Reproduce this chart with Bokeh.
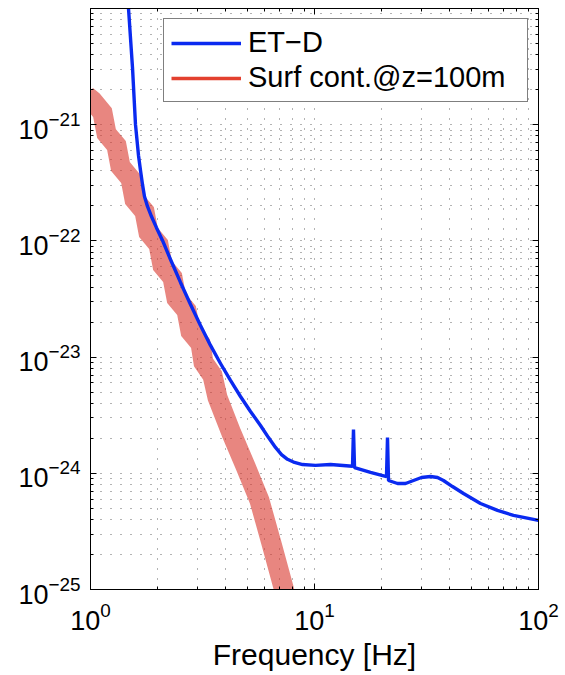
import numpy as np
from bokeh.plotting import figure
from bokeh.models import (LogAxis, FixedTicker, Legend, LegendItem,
                          ColumnDataSource, Range1d, CustomJSTickFormatter)
from bokeh.embed import file_html
from bokeh.resources import INLINE

# ---------------- data ----------------
etd_freq = [1.463, 1.478, 1.540, 1.588, 1.638, 1.672, 1.707, 1.742, 1.797, 1.872,
            1.970, 2.096, 2.276, 2.522, 2.796, 3.098, 3.434, 3.805, 4.217, 4.673,
            5.179, 5.740, 6.233, 6.697, 7.123, 7.578, 8.141, 8.841, 10.10, 11.79,
            14.78, 14.93, 15.09, 17.78, 20.96, 21.18, 21.40, 23.48, 25.49, 27.67,
            30.04, 32.95, 35.41, 37.65, 41.31, 46.26, 55.09, 65.61, 77.32, 100.0]
etd_asd = [1.29e-20, 1.00e-20, 3.10e-21, 1.00e-21, 5.43e-22, 4.04e-22, 3.05e-22,
           2.41e-22, 1.98e-22, 1.62e-22, 1.30e-22, 1.01e-22, 6.92e-23, 4.39e-23,
           2.84e-23, 1.87e-23, 1.26e-23, 8.81e-24, 6.30e-24, 4.58e-24, 3.40e-24,
           2.58e-24, 2.03e-24, 1.67e-24, 1.45e-24, 1.32e-24, 1.24e-24, 1.19e-24,
           1.17e-24, 1.19e-24, 1.15e-24, 2.38e-24, 1.12e-24, 1.02e-24, 9.38e-25,
           2.03e-24, 8.67e-25, 8.17e-25, 8.17e-25, 8.67e-25, 9.20e-25, 9.38e-25,
           9.20e-25, 8.67e-25, 7.69e-25, 6.70e-25, 5.50e-25, 4.79e-25, 4.34e-25,
           3.93e-25]

surf_freq = [0.96, 1.021, 1.131, 1.179, 1.306, 1.361, 1.509, 1.572, 1.742, 1.815,
             2.012, 2.096, 2.323, 2.421, 2.683, 2.796, 3.098, 3.195, 3.504, 3.690,
             4.262, 4.920, 5.681, 6.427, 7.270, 7.975]
surf_asd = [1.78e-21, 1.61e-21, 1.27e-21, 8.39e-22, 6.62e-22, 4.37e-22, 3.44e-22,
            2.27e-22, 1.79e-22, 1.18e-22, 9.31e-23, 6.14e-23, 4.84e-23, 3.19e-23,
            2.52e-23, 1.66e-23, 1.31e-23, 8.99e-24, 6.95e-24, 4.49e-24, 2.20e-24,
            1.15e-24, 5.83e-25, 2.49e-25, 1.04e-25, 4.90e-26]

x_ticks = [1, 10, 100]
y_ticks = [1e-25, 1e-24, 1e-23, 1e-22, 1e-21]

series_labels = ["ET\u2212D", "Surf cont.@z=100m"]
x_label = "Frequency [Hz]"

FONT = "Liberation Sans"
BLUE = "#0a2af0"
RED = "#d8362c"

# ---------------- figure ----------------
p = figure(width=565, height=675, x_axis_type="log", y_axis_type="log",
           x_range=Range1d(1, 100), y_range=Range1d(1e-25, 1e-20),
           output_backend="svg", toolbar_location=None,
           min_border_left=90, min_border_right=27,
           min_border_top=8, min_border_bottom=86)
p.background_fill_color = "white"
p.border_fill_color = "white"
p.outline_line_color = "black"
p.outline_line_width = 1

x_minor = [m * d for d in [1, 10] for m in range(2, 10)]
y_minor = [m * d for d in [1e-25, 1e-24, 1e-23, 1e-22, 1e-21] for m in range(2, 10)]
xt = FixedTicker(ticks=x_ticks, minor_ticks=x_minor)
yt = FixedTicker(ticks=y_ticks, minor_ticks=y_minor)

def style_axis(ax, ticker, hide_labels):
    ax.ticker = ticker
    if hide_labels:
        ax.formatter = CustomJSTickFormatter(code="return ' ';")
        ax.major_label_text_font_size = "2px"
        ax.major_label_standoff = 0
    else:
        ax.major_label_text_font = FONT
        ax.major_label_text_font_size = "27px"
        ax.major_label_text_color = "black"
    ax.major_tick_in = 6
    ax.major_tick_out = 0
    ax.minor_tick_in = 3
    ax.minor_tick_out = 0
    ax.axis_line_color = "black"
    ax.major_tick_line_color = "black"
    ax.minor_tick_line_color = "black"

style_axis(p.xaxis[0], xt, False)
style_axis(p.yaxis[0], yt, False)
p.xaxis[0].major_label_standoff = 12
p.yaxis[0].major_label_standoff = 10
p.xaxis[0].axis_label = x_label
p.xaxis[0].axis_label_text_font = FONT
p.xaxis[0].axis_label_text_font_size = "30px"
p.xaxis[0].axis_label_text_font_style = "normal"
p.xaxis[0].axis_label_text_color = "black"
p.xaxis[0].axis_label_standoff = 5

top_ax = LogAxis()
right_ax = LogAxis()
style_axis(top_ax, xt, True)
style_axis(right_ax, yt, True)
p.add_layout(top_ax, "above")
p.add_layout(right_ax, "right")

for g, t in ((p.xgrid[0], xt), (p.ygrid[0], yt)):
    g.ticker = t
    g.grid_line_color = "black"
    g.grid_line_alpha = 0.6
    g.grid_line_dash = "1 9"
    g.grid_line_width = 1
    g.minor_grid_line_color = "black"
    g.minor_grid_line_alpha = 0.6
    g.minor_grid_line_dash = "1 9"
    g.minor_grid_line_width = 1

# ---------------- glyphs ----------------
surf_src = ColumnDataSource(dict(f=surf_freq, h=surf_asd))
etd_src = ColumnDataSource(dict(f=etd_freq, h=etd_asd))

p.line("f", "h", source=surf_src, line_color=RED, line_alpha=0.6,
       line_width=20, line_join="miter", line_cap="butt")
r_etd = p.line("f", "h", source=etd_src, line_color=BLUE, line_width=3.4)

# legend proxy for the red series (lies outside the visible ranges)
proxy_src = ColumnDataSource(dict(f=[500.0, 600.0], h=[1e-30, 1e-30]))
r_proxy = p.line("f", "h", source=proxy_src, line_color="#e3402f", line_width=3.4)

legend = Legend(items=[LegendItem(label=series_labels[0], renderers=[r_etd]),
                       LegendItem(label=series_labels[1], renderers=[r_proxy])],
                location="top_right", margin=10, padding=7, spacing=2,
                glyph_width=70, glyph_height=20, label_standoff=7,
                label_width=272,
                label_text_font=FONT, label_text_font_size="29px",
                label_text_color="black",
                border_line_color="black", border_line_width=1,
                background_fill_color="white", background_fill_alpha=1.0)
p.add_layout(legend)

open("out.html", "w").write(file_html(p, INLINE))
